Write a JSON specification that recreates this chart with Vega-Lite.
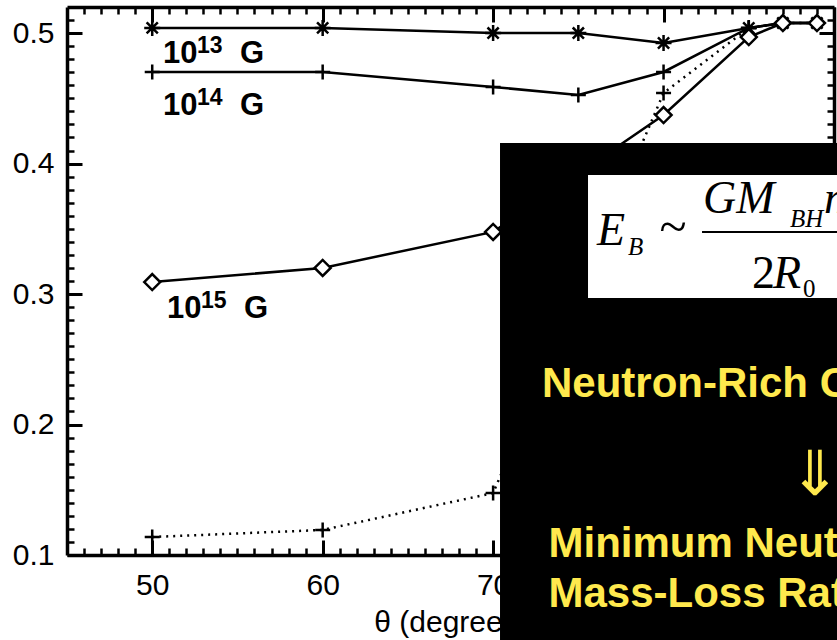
{
  "$schema": "https://vega.github.io/schema/vega-lite/v6.json",
  "width": 767,
  "height": 548,
  "autosize": "none",
  "padding": {"left": 67, "top": 7, "right": 3, "bottom": 85},
  "background": "white",
  "config": {"view": {"stroke": null}},
  "datasets": {
    "pts": [
      {"theta": 50, "frac": 0.504, "series": "1e13"},
      {"theta": 60, "frac": 0.504, "series": "1e13"},
      {"theta": 70, "frac": 0.500, "series": "1e13"},
      {"theta": 75, "frac": 0.500, "series": "1e13"},
      {"theta": 80, "frac": 0.4924, "series": "1e13"},
      {"theta": 85, "frac": 0.5039, "series": "1e13"},
      {"theta": 87, "frac": 0.5077, "series": "1e13"},
      {"theta": 89, "frac": 0.5077, "series": "1e13"},
      {"theta": 50, "frac": 0.4702, "series": "1e14"},
      {"theta": 60, "frac": 0.4702, "series": "1e14"},
      {"theta": 70, "frac": 0.4587, "series": "1e14"},
      {"theta": 75, "frac": 0.4526, "series": "1e14"},
      {"theta": 80, "frac": 0.4702, "series": "1e14"},
      {"theta": 85, "frac": 0.5039, "series": "1e14"},
      {"theta": 87, "frac": 0.5077, "series": "1e14"},
      {"theta": 89, "frac": 0.5077, "series": "1e14"},
      {"theta": 50, "frac": 0.3092, "series": "1e15"},
      {"theta": 60, "frac": 0.3200, "series": "1e15"},
      {"theta": 70, "frac": 0.3476, "series": "1e15"},
      {"theta": 80, "frac": 0.4372, "series": "1e15"},
      {"theta": 85, "frac": 0.4970, "series": "1e15"},
      {"theta": 87, "frac": 0.5077, "series": "1e15"},
      {"theta": 89, "frac": 0.5077, "series": "1e15"},
      {"theta": 50, "frac": 0.1138, "series": "dotted"},
      {"theta": 60, "frac": 0.1192, "series": "dotted"},
      {"theta": 70, "frac": 0.1475, "series": "dotted"},
      {"theta": 80, "frac": 0.4541, "series": "dotted"},
      {"theta": 85, "frac": 0.5039, "series": "dotted"},
      {"theta": 87, "frac": 0.5077, "series": "dotted"},
      {"theta": 89, "frac": 0.5077, "series": "dotted"}
    ]
  },
  "resolve": {"axis": {"x": "independent", "y": "independent"}},
  "layer": [
    {
      "data": {"name": "pts"},
      "transform": [{"filter": "datum.series != 'dotted'"}],
      "mark": {"type": "line", "color": "black", "strokeWidth": 2.5, "clip": true},
      "encoding": {
        "x": {"field": "theta", "type": "quantitative",
          "scale": {"domain": [45, 90], "nice": false, "zero": false},
          "axis": {"orient": "bottom", "values": [50, 60, 70, 80, 90], "ticks": false, "grid": false,
            "domain": true, "domainColor": "black", "domainWidth": 3.5,
            "labelFont": "Liberation Sans", "labelFontSize": 30, "labelColor": "black", "labelPadding": 15,
            "labelFlush": false, "labelOverlap": false,
            "title": "θ (degrees)", "titleFont": "Liberation Sans", "titleFontSize": 30, "titleFontWeight": "normal",
            "titleColor": "black", "titlePadding": 7}},
        "y": {"field": "frac", "type": "quantitative",
          "scale": {"domain": [0.1, 0.52], "nice": false, "zero": false},
          "axis": {"orient": "left", "values": [0.1, 0.2, 0.3, 0.4, 0.5], "format": ".1f", "ticks": false, "grid": false,
            "domain": true, "domainColor": "black", "domainWidth": 3.5,
            "labelFont": "Liberation Sans", "labelFontSize": 30, "labelColor": "black", "labelPadding": 13,
            "labelFlush": false, "labelOverlap": false, "title": null}},
        "detail": {"field": "series"}
      }
    },
    {
      "data": {"name": "pts"},
      "transform": [{"filter": "datum.series == 'dotted'"}],
      "mark": {"type": "line", "color": "black", "strokeWidth": 2.5, "strokeDash": [2, 5], "clip": true},
      "encoding": {
        "x": {"field": "theta", "type": "quantitative",
          "axis": {"orient": "bottom", "offset": -15, "values": [50, 60, 70, 80, 90], "ticks": true, "tickSize": 15, "tickWidth": 3, "tickColor": "black",
            "labels": false, "domain": false, "grid": false, "title": null}},
        "y": {"field": "frac", "type": "quantitative",
          "axis": {"orient": "left", "offset": -15, "values": [0.1, 0.2, 0.3, 0.4, 0.5], "ticks": true, "tickSize": 15, "tickWidth": 3, "tickColor": "black",
            "labels": false, "domain": false, "grid": false, "title": null}}
      }
    },
    {
      "data": {"name": "pts"},
      "transform": [{"filter": "datum.series == '1e13'"}],
      "mark": {"type": "point", "shape": "M-1,0L1,0M0,-1L0,1M-0.7,-0.7L0.7,0.7M-0.7,0.7L0.7,-0.7", "size": 256, "filled": false, "stroke": "black", "strokeWidth": 2.5, "opacity": 1, "clip": true},
      "encoding": {
        "x": {"field": "theta", "type": "quantitative",
          "axis": {"orient": "bottom", "offset": -7, "values": [46,47,48,49,51,52,53,54,55,56,57,58,59,61,62,63,64,65,66,67,68,69,71,72,73,74,75,76,77,78,79,81,82,83,84,85,86,87,88,89], "ticks": true, "tickSize": 7, "tickWidth": 2.5, "tickColor": "black",
            "labels": false, "domain": false, "grid": false, "title": null}},
        "y": {"field": "frac", "type": "quantitative",
          "axis": {"orient": "left", "offset": -7, "values": [0.11,0.12,0.13,0.14,0.15,0.16,0.17,0.18,0.19,0.21,0.22,0.23,0.24,0.25,0.26,0.27,0.28,0.29,0.31,0.32,0.33,0.34,0.35,0.36,0.37,0.38,0.39,0.41,0.42,0.43,0.44,0.45,0.46,0.47,0.48,0.49,0.51], "ticks": true, "tickSize": 7, "tickWidth": 2.5, "tickColor": "black",
            "labels": false, "domain": false, "grid": false, "title": null}}
      }
    },
    {
      "data": {"name": "pts"},
      "transform": [{"filter": "datum.series == '1e14' || datum.series == 'dotted'"}],
      "mark": {"type": "point", "shape": "M-1,0L1,0M0,-1L0,1", "size": 225, "filled": false, "stroke": "black", "strokeWidth": 2.5, "opacity": 1, "clip": true},
      "encoding": {
        "x": {"field": "theta", "type": "quantitative",
          "axis": {"orient": "top", "offset": -15, "values": [50, 60, 70, 80, 90], "ticks": true, "tickSize": 15, "tickWidth": 3, "tickColor": "black",
            "labels": false, "domain": false, "grid": false, "title": null}},
        "y": {"field": "frac", "type": "quantitative",
          "axis": {"orient": "right", "offset": -15, "values": [0.1, 0.2, 0.3, 0.4, 0.5], "ticks": true, "tickSize": 15, "tickWidth": 3, "tickColor": "black",
            "labels": false, "domain": false, "grid": false, "title": null}}
      }
    },
    {
      "data": {"name": "pts"},
      "transform": [{"filter": "datum.series == '1e15'"}],
      "mark": {"type": "point", "shape": "diamond", "size": 256, "filled": true, "fill": "white", "stroke": "black", "strokeWidth": 2.5, "opacity": 1, "clip": true},
      "encoding": {
        "x": {"field": "theta", "type": "quantitative",
          "axis": {"orient": "top", "offset": -7, "values": [46,47,48,49,51,52,53,54,55,56,57,58,59,61,62,63,64,65,66,67,68,69,71,72,73,74,75,76,77,78,79,81,82,83,84,85,86,87,88,89], "ticks": true, "tickSize": 7, "tickWidth": 2.5, "tickColor": "black",
            "labels": false, "domain": false, "grid": false, "title": null}},
        "y": {"field": "frac", "type": "quantitative",
          "axis": {"orient": "right", "offset": -7, "values": [0.11,0.12,0.13,0.14,0.15,0.16,0.17,0.18,0.19,0.21,0.22,0.23,0.24,0.25,0.26,0.27,0.28,0.29,0.31,0.32,0.33,0.34,0.35,0.36,0.37,0.38,0.39,0.41,0.42,0.43,0.44,0.45,0.46,0.47,0.48,0.49,0.51], "ticks": true, "tickSize": 7, "tickWidth": 2.5, "tickColor": "black",
            "labels": false, "domain": false, "grid": false, "title": null}}
      }
    },
    {
      "data": {"values": [{}]},
      "mark": {"type": "rule", "color": "black", "strokeWidth": 3.5, "clip": false},
      "encoding": {
        "x": {"datum": 45, "type": "quantitative",
          "axis": {"orient": "top", "values": [], "ticks": false, "labels": false, "domain": true, "domainColor": "black", "domainWidth": 3.5, "grid": false, "title": null}},
        "x2": {"datum": 45},
        "y": {"datum": 0.1, "type": "quantitative",
          "axis": {"orient": "right", "values": [], "ticks": false, "labels": false, "domain": true, "domainColor": "black", "domainWidth": 3.5, "grid": false, "title": null}},
        "y2": {"datum": 0.1}
      }
    },
    {"data": {"values": [{}]}, "mark": {"type": "text", "text": "10", "font": "Liberation Sans", "fontWeight": "bold", "fontSize": 31, "align": "left", "baseline": "alphabetic", "color": "black"},
      "encoding": {"x": {"datum": 50.632, "type": "quantitative", "axis": null}, "y": {"datum": 0.4771, "type": "quantitative", "axis": null}}},
    {"data": {"values": [{}]}, "mark": {"type": "text", "text": "13", "font": "Liberation Sans", "fontWeight": "bold", "fontSize": 23, "align": "left", "baseline": "alphabetic", "color": "black"},
      "encoding": {"x": {"datum": 52.627, "type": "quantitative", "axis": null}, "y": {"datum": 0.4847, "type": "quantitative", "axis": null}}},
    {"data": {"values": [{}]}, "mark": {"type": "text", "text": "G", "font": "Liberation Sans", "fontWeight": "bold", "fontSize": 31, "align": "left", "baseline": "alphabetic", "color": "black"},
      "encoding": {"x": {"datum": 55.15, "type": "quantitative", "axis": null}, "y": {"datum": 0.4771, "type": "quantitative", "axis": null}}},
    {"data": {"values": [{}]}, "mark": {"type": "text", "text": "10", "font": "Liberation Sans", "fontWeight": "bold", "fontSize": 31, "align": "left", "baseline": "alphabetic", "color": "black"},
      "encoding": {"x": {"datum": 50.632, "type": "quantitative", "axis": null}, "y": {"datum": 0.4372, "type": "quantitative", "axis": null}}},
    {"data": {"values": [{}]}, "mark": {"type": "text", "text": "14", "font": "Liberation Sans", "fontWeight": "bold", "fontSize": 23, "align": "left", "baseline": "alphabetic", "color": "black"},
      "encoding": {"x": {"datum": 52.627, "type": "quantitative", "axis": null}, "y": {"datum": 0.4449, "type": "quantitative", "axis": null}}},
    {"data": {"values": [{}]}, "mark": {"type": "text", "text": "G", "font": "Liberation Sans", "fontWeight": "bold", "fontSize": 31, "align": "left", "baseline": "alphabetic", "color": "black"},
      "encoding": {"x": {"datum": 55.15, "type": "quantitative", "axis": null}, "y": {"datum": 0.4372, "type": "quantitative", "axis": null}}},
    {"data": {"values": [{}]}, "mark": {"type": "text", "text": "10", "font": "Liberation Sans", "fontWeight": "bold", "fontSize": 31, "align": "left", "baseline": "alphabetic", "color": "black"},
      "encoding": {"x": {"datum": 50.867, "type": "quantitative", "axis": null}, "y": {"datum": 0.2816, "type": "quantitative", "axis": null}}},
    {"data": {"values": [{}]}, "mark": {"type": "text", "text": "15", "font": "Liberation Sans", "fontWeight": "bold", "fontSize": 23, "align": "left", "baseline": "alphabetic", "color": "black"},
      "encoding": {"x": {"datum": 52.862, "type": "quantitative", "axis": null}, "y": {"datum": 0.2893, "type": "quantitative", "axis": null}}},
    {"data": {"values": [{}]}, "mark": {"type": "text", "text": "G", "font": "Liberation Sans", "fontWeight": "bold", "fontSize": 31, "align": "left", "baseline": "alphabetic", "color": "black"},
      "encoding": {"x": {"datum": 55.385, "type": "quantitative", "axis": null}, "y": {"datum": 0.2816, "type": "quantitative", "axis": null}}},
    {"data": {"values": [{}]}, "mark": {"type": "rect", "color": "black", "clip": false},
      "encoding": {"x": {"datum": 70.405, "type": "quantitative", "axis": null}, "x2": {"datum": 92},
        "y": {"datum": 0.4158, "type": "quantitative", "axis": null}, "y2": {"datum": 0.02}}},
    {"data": {"values": [{}]}, "mark": {"type": "rect", "color": "white", "clip": false},
      "encoding": {"x": {"datum": 75.568, "type": "quantitative", "axis": null}, "x2": {"datum": 92},
        "y": {"datum": 0.3912, "type": "quantitative", "axis": null}, "y2": {"datum": 0.297}}},
    {"data": {"values": [{}]}, "mark": {"type": "rule", "color": "black", "strokeWidth": 2, "clip": false},
      "encoding": {"x": {"datum": 82.257, "type": "quantitative", "axis": null}, "x2": {"datum": 92},
        "y": {"datum": 0.3476, "type": "quantitative", "axis": null}}},
    {"data": {"values": [{}]}, "mark": {"type": "text", "text": "E", "font": "Liberation Serif", "fontStyle": "italic", "fontSize": 46, "align": "left", "baseline": "alphabetic", "color": "black"},
      "encoding": {"x": {"datum": 76.096, "type": "quantitative", "axis": null}, "y": {"datum": 0.3376, "type": "quantitative", "axis": null}}},
    {"data": {"values": [{}]}, "mark": {"type": "text", "text": "B", "font": "Liberation Serif", "fontStyle": "italic", "fontSize": 25, "align": "left", "baseline": "alphabetic", "color": "black"},
      "encoding": {"x": {"datum": 77.915, "type": "quantitative", "axis": null}, "y": {"datum": 0.3299, "type": "quantitative", "axis": null}}},
    {"data": {"values": [{}]}, "mark": {"type": "text", "text": "~", "font": "Liberation Serif", "fontSize": 50, "align": "center", "baseline": "middle", "color": "black"},
      "encoding": {"x": {"datum": 80.55, "type": "quantitative", "axis": null}, "y": {"datum": 0.3506, "type": "quantitative", "axis": null}}},
    {"data": {"values": [{}]}, "mark": {"type": "text", "text": "GM", "font": "Liberation Serif", "fontStyle": "italic", "fontSize": 46, "align": "left", "baseline": "alphabetic", "color": "black"},
      "encoding": {"x": {"datum": 82.316, "type": "quantitative", "axis": null}, "y": {"datum": 0.3621, "type": "quantitative", "axis": null}}},
    {"data": {"values": [{}]}, "mark": {"type": "text", "text": "BH", "font": "Liberation Serif", "fontStyle": "italic", "fontSize": 25, "align": "left", "baseline": "alphabetic", "color": "black"},
      "encoding": {"x": {"datum": 87.42, "type": "quantitative", "axis": null}, "y": {"datum": 0.3514, "type": "quantitative", "axis": null}}},
    {"data": {"values": [{}]}, "mark": {"type": "text", "text": "m", "font": "Liberation Serif", "fontStyle": "italic", "fontSize": 46, "align": "left", "baseline": "alphabetic", "color": "black"},
      "encoding": {"x": {"datum": 89.414, "type": "quantitative", "axis": null}, "y": {"datum": 0.3621, "type": "quantitative", "axis": null}}},
    {"data": {"values": [{}]}, "mark": {"type": "text", "text": "2", "font": "Liberation Serif", "fontSize": 46, "align": "left", "baseline": "alphabetic", "color": "black"},
      "encoding": {"x": {"datum": 85.19, "type": "quantitative", "axis": null}, "y": {"datum": 0.3046, "type": "quantitative", "axis": null}}},
    {"data": {"values": [{}]}, "mark": {"type": "text", "text": "R", "font": "Liberation Serif", "fontStyle": "italic", "fontSize": 46, "align": "left", "baseline": "alphabetic", "color": "black"},
      "encoding": {"x": {"datum": 86.42, "type": "quantitative", "axis": null}, "y": {"datum": 0.3046, "type": "quantitative", "axis": null}}},
    {"data": {"values": [{}]}, "mark": {"type": "text", "text": "0", "font": "Liberation Serif", "fontSize": 25, "align": "left", "baseline": "alphabetic", "color": "black"},
      "encoding": {"x": {"datum": 88.18, "type": "quantitative", "axis": null}, "y": {"datum": 0.2977, "type": "quantitative", "axis": null}}},
    {"data": {"values": [{}]}, "mark": {"type": "text", "text": "Neutron-Rich Conditions", "font": "Liberation Sans", "fontWeight": "bold", "fontSize": 42, "align": "left", "baseline": "alphabetic", "color": "#FFE94D"},
      "encoding": {"x": {"datum": 72.869, "type": "quantitative", "axis": null}, "y": {"datum": 0.2211, "type": "quantitative", "axis": null}}},
    {"data": {"values": [{}]}, "mark": {"type": "text", "text": "⇓", "font": "DejaVu Sans", "fontSize": 62, "align": "center", "baseline": "alphabetic", "color": "#FFE94D"},
      "encoding": {"x": {"datum": 88.886, "type": "quantitative", "axis": null}, "y": {"datum": 0.146, "type": "quantitative", "axis": null}}},
    {"data": {"values": [{}]}, "mark": {"type": "text", "text": "Minimum Neutrino-Driven", "font": "Liberation Sans", "fontWeight": "bold", "fontSize": 42, "align": "left", "baseline": "alphabetic", "color": "#FFE94D"},
      "encoding": {"x": {"datum": 73.25, "type": "quantitative", "axis": null}, "y": {"datum": 0.09847, "type": "quantitative", "axis": null}}},
    {"data": {"values": [{}]}, "mark": {"type": "text", "text": "Mass-Loss Rate", "font": "Liberation Sans", "fontWeight": "bold", "fontSize": 42, "align": "left", "baseline": "alphabetic", "color": "#FFE94D"},
      "encoding": {"x": {"datum": 73.25, "type": "quantitative", "axis": null}, "y": {"datum": 0.06015, "type": "quantitative", "axis": null}}}
  ]
}
